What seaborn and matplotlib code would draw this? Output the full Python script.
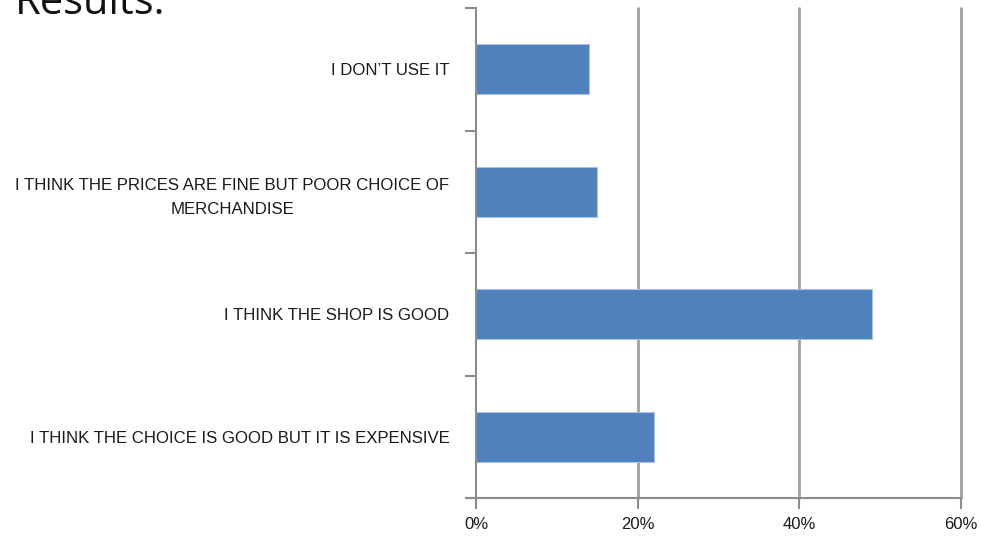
import matplotlib
matplotlib.use("Agg")
import matplotlib.pyplot as plt
from matplotlib.ticker import FixedLocator
import seaborn as sns
import pandas as pd

categories = [
    "I DON\u2019T USE IT",
    "I THINK THE PRICES ARE FINE BUT POOR CHOICE OF\nMERCHANDISE",
    "I THINK THE SHOP IS GOOD",
    "I THINK THE CHOICE IS GOOD BUT IT IS EXPENSIVE",
]
values = [14, 15, 49, 22]
x_ticks = [0, 20, 40, 60]
x_tick_labels = ["0%", "20%", "40%", "60%"]
title = "Results:"

sns.set_theme(style="white")
plt.rcParams['font.family'] = ['Liberation Sans', 'DejaVu Sans']

df = pd.DataFrame({"category": categories, "value": values})

fig = plt.figure(figsize=(9.81, 5.38), dpi=100)
ax = fig.add_axes([476/981, 1-498/538, (961-476)/981, (498-8)/538])

sns.barplot(data=df, y="category", x="value", orient="h", color="#4F81BD",
            saturation=1, width=0.41, edgecolor="#A9C2E3", linewidth=0.8, ax=ax)

ax.set_xlim(0, 60)
ax.set_ylim(3.5, -0.5)
ax.set_xlabel("")
ax.set_ylabel("")
ax.set_xticks(x_ticks)
ax.set_xticklabels(x_tick_labels, fontsize=12, color="#1a1a1a")
for lbl in ax.get_yticklabels():
    lbl.set_multialignment("center")
    lbl.set_linespacing(1.75)
ax.tick_params(axis="y", which="major", length=0, pad=19, labelsize=12.1, labelcolor="#1a1a1a")
ax.yaxis.set_minor_locator(FixedLocator([-0.5, 0.5, 1.5, 2.5, 3.5]))
ax.tick_params(axis="y", which="minor", left=True, length=8, width=1.5, color="#8C8C8C", direction="out")
ax.tick_params(axis="x", which="major", bottom=True, length=8, width=1.5, color="#8C8C8C", direction="out", pad=6)

for x in [20, 40, 60]:
    ax.axvline(x, color="#A0A0A0", lw=2, zorder=0, clip_on=False)

for s in ["top", "right"]:
    ax.spines[s].set_visible(False)
for s in ["left", "bottom"]:
    ax.spines[s].set_color("#8C8C8C")
    ax.spines[s].set_linewidth(1.5)
ax.spines["bottom"].set_bounds(-1.1, 60)
ax.set_axisbelow(True)

fig.text(15/981, 1-14/538, title, fontsize=30, family=['Open Sans', 'DejaVu Sans'],
         ha="left", va="baseline", color="#111111")

fig.savefig("out.png", dpi=100, facecolor="white")
